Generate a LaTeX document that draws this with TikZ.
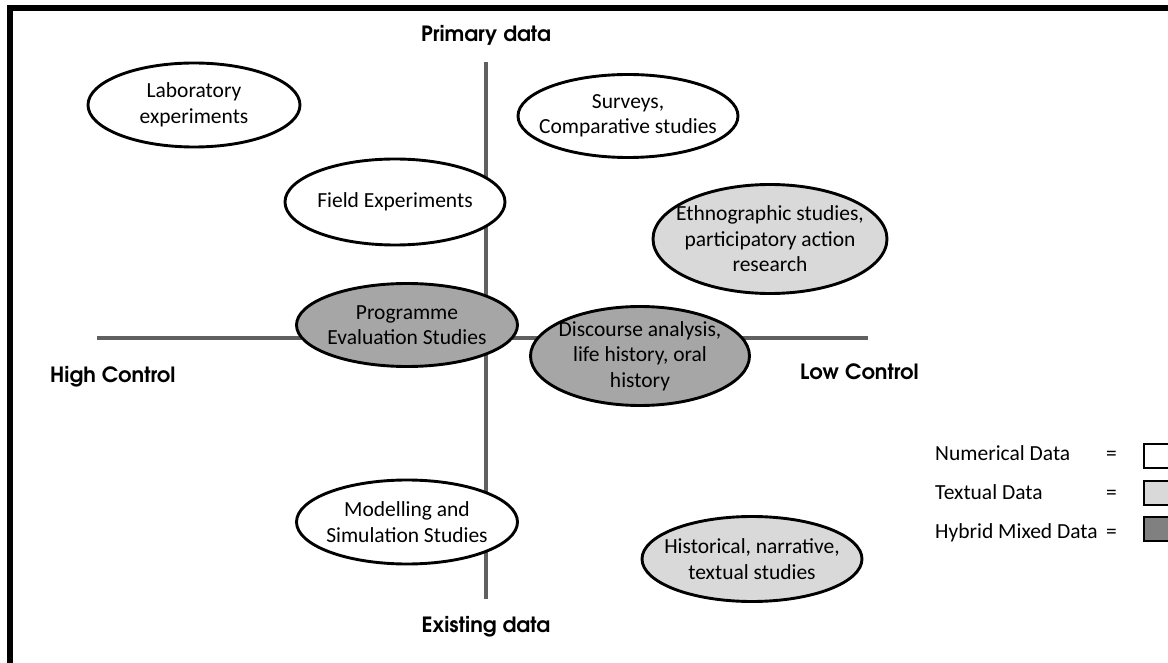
\documentclass[tikz,border=0pt]{standalone}
\usepackage{fontspec}
\setmainfont{Carlito}
\newfontfamily\axisfont{TeX Gyre Adventor}
\usetikzlibrary{shapes.geometric}
\definecolor{axisgray}{HTML}{606060}
\definecolor{textgray}{HTML}{D9D9D9}
\definecolor{hybridgray}{HTML}{A6A6A6}
\definecolor{keygray}{HTML}{808080}

\begin{document}
\begin{tikzpicture}[x=1pt,y=-1pt,
  bubble/.style={ellipse, draw=black, line width=2.9pt, inner sep=0pt},
  bubbletext/.style={inner sep=0pt, align=center, font=\fontsize{21.5}{25.5}\selectfont},
  numeric/.style={bubble, fill=white},
  textual/.style={bubble, fill=textgray},
  hybrid/.style={bubble, fill=hybridgray},
  axisline/.style={draw=axisgray, line width=4.5pt},
  axislabel/.style={inner sep=0pt, font=\axisfont\bfseries\fontsize{21}{25}\selectfont},
  keytext/.style={inner sep=0pt, anchor=base west, font=\fontsize{21.5}{25.5}\selectfont},
  keybox/.style={draw=black, line width=2pt, minimum width=40pt, minimum height=24pt, inner sep=0pt},
  frameline/.style={draw=black, line width=6pt}]

% page extent and frame
\useasboundingbox (0,0) rectangle (1168,663);
\draw[frameline] (10,680) -- (10,8) -- (1190,8);

% axes
\coordinate (vtop) at (486,62);
\coordinate (vbot) at (486,599);
\coordinate (hleft) at (97,338);
\coordinate (hright) at (868,338);
\draw[axisline] (vtop) -- (vbot);
\draw[axisline] (hleft) -- (hright);

% axis labels
\node[axislabel, anchor=base] (primary) at (486,42) {Primary data};
\node[axislabel, anchor=base] (existing) at (486,632) {Existing data};
\node[axislabel, anchor=base west] (high) at (50,382) {High Control};
\node[axislabel, anchor=base west] (low) at (800,379) {Low Control};

% research approaches: fixed-size ellipses with their captions
\node[numeric, minimum width=212pt, minimum height=84pt] (lab) at (194,105) {};
\node[bubbletext] (labText) at (lab) {Laboratory\\experiments};
\node[numeric, minimum width=220pt, minimum height=86pt] (field) at (395,202) {};
\node[bubbletext] (fieldText) at (field) {Field Experiments};
\node[numeric, minimum width=220pt, minimum height=83pt] (surv) at (628,116) {};
\node[bubbletext] (survText) at (surv) {Surveys,\\Comparative studies};
\node[textual, minimum width=234pt, minimum height=109pt] (ethno) at (770,239) {};
\node[bubbletext] (ethnoText) at (ethno) {Ethnographic studies,\\participatory action\\research};
\node[hybrid, minimum width=221pt, minimum height=83pt] (prog) at (407,325) {};
\node[bubbletext] (progText) at (prog) {Programme\\Evaluation Studies};
\node[hybrid, minimum width=219pt, minimum height=99pt] (disc) at (640,356) {};
\node[bubbletext] (discText) at (disc) {Discourse analysis,\\life history, oral\\history};
\node[numeric, minimum width=221pt, minimum height=84pt] (model) at (407,522) {};
\node[bubbletext] (modelText) at (model) {Modelling and\\Simulation Studies};
\node[textual, minimum width=220pt, minimum height=85pt] (hist) at (752,559) {};
\node[bubbletext] (histText) at (hist) {Historical, narrative,\\textual studies};

% key
\node[keytext] (kNum) at (935,460) {Numerical Data};
\node[keytext] (kTxt) at (935,499) {Textual Data};
\node[keytext] (kHyb) at (935,538) {Hybrid Mixed Data};
\node[keytext] (eNum) at (1106,460) {=};
\node[keytext] (eTxt) at (1106,499) {=};
\node[keytext] (eHyb) at (1106,538) {=};
\node[keybox, fill=white] (bNum) at (1164,456) {};
\node[keybox, fill=textgray] (bTxt) at (1164,493) {};
\node[keybox, fill=keygray] (bHyb) at (1164,529) {};
\end{tikzpicture}
\end{document}
